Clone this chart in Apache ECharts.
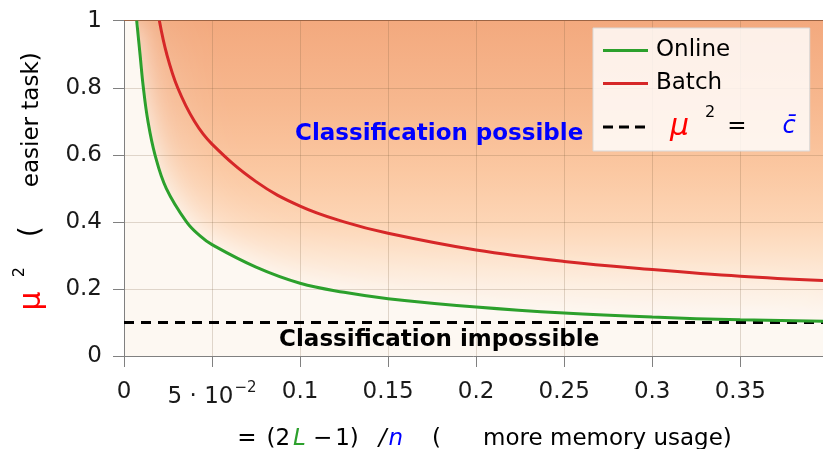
<!DOCTYPE html>
<html>
<head>
<meta charset="utf-8">
<script src="https://cdn.jsdelivr.net/npm/echarts@6/dist/echarts.min.js"></script>
<style>
  html, body { margin: 0; padding: 0; background: #fff; }
  #chart { width: 823px; height: 449px; }
</style>
</head>
<body>
<div id="chart"></div>
<script>
// values
const xMax = 0.397;
const cBar = 0.1;

const onlineX = [0.0072, 0.0091, 0.011, 0.0136, 0.0176, 0.024, 0.0355, 0.0432, 0.05, 0.075, 0.1, 0.125, 0.15, 0.2, 0.25, 0.3, 0.35, 0.397];
const onlineY = [1.0, 0.9, 0.8, 0.7, 0.6, 0.5, 0.4, 0.358, 0.332, 0.265, 0.217, 0.19, 0.171, 0.146, 0.128, 0.116, 0.108, 0.104];

const batchX = [0.0201, 0.0243, 0.0305, 0.04, 0.05, 0.075, 0.1, 0.125, 0.15, 0.2, 0.25, 0.3, 0.35, 0.397];
const batchY = [1.0, 0.9, 0.8, 0.70, 0.632, 0.52, 0.447, 0.40, 0.366, 0.316, 0.282, 0.258, 0.238, 0.225];

const thresholdX = [0, xMax];

const xTickLabels = ['0', '5 · 10', '0.1', '0.15', '0.2', '0.25', '0.3', '0.35'];
const yTickLabels = ['0', '0.2', '0.4', '0.6', '0.8', '1'];

const FONT = 'DejaVu Sans';
const pairs = (xs, ys) => xs.map((x, i) => [x, ys[i]]);
const fillData = [[0, 1]].concat(pairs(onlineX, onlineY));

const chart = echarts.init(document.getElementById('chart'));

const gridLine = { show: true, lineStyle: { color: 'rgba(120,90,60,0.22)', width: 1 } };

const option = {
  animation: false,
  textStyle: { fontFamily: FONT },
  grid: {
    left: 124, right: 0, top: 20.7, bottom: 93,
    show: true, borderWidth: 0,
    outerBoundsMode: 'none',
    backgroundColor: new echarts.graphic.LinearGradient(0, 0, 0, 1, [
      { offset: 0, color: '#f3a97e' },
      { offset: 0.25, color: '#f7b88f' },
      { offset: 0.45, color: '#fbc8a2' },
      { offset: 0.6, color: '#fdd5b5' },
      { offset: 0.7, color: '#fde2ca' },
      { offset: 0.8, color: '#fdeee0' },
      { offset: 0.88, color: '#fdf6ee' },
      { offset: 1, color: '#fdf8f2' }
    ])
  },
  legend: {
    data: [
      { name: 'Online', icon: 'rect' },
      { name: 'Batch', icon: 'rect' },
      { name: 'threshold', icon: 'path://M0,0h10v3h-10z M16,0h10v3h-10z M32,0h10v3h-10z M45,0h0v3h0z' }
    ],
    orient: 'vertical',
    left: 593, top: 28,
    itemWidth: 45, itemHeight: 3, itemGap: 10,
    padding: [11, 14, 9, 10],
    backgroundColor: 'rgba(255,255,255,0.82)',
    borderColor: '#d9d9d9', borderWidth: 1,
    z: 10,
    textStyle: {
      fontFamily: FONT, fontSize: 23, color: '#000', padding: [0, 0, 0, 3],
      rich: {
        mu: { fontFamily: FONT, fontSize: 30, fontStyle: 'italic', color: '#ff0000', lineHeight: 44, padding: [0, 0, 0, 14] },
        sup: { fontFamily: FONT, fontSize: 16, color: '#000', verticalAlign: 'top', lineHeight: 20, padding: [0, 0, 0, 16] },
        eq: { fontFamily: FONT, fontSize: 23, color: '#000', padding: [0, 0, 0, 12] },
        c: { fontFamily: FONT, fontSize: 24, fontStyle: 'italic', color: '#0000ff', padding: [0, 0, 0, 36] }
      }
    },
    formatter: function (name) {
      if (name === 'threshold') return '{mu|μ}{sup|2}{eq|=}{c|c\u0304}';
      return name;
    }
  },
  xAxis: [{
    type: 'value', min: 0, max: xMax, interval: 0.05, z: 3,
    axisLine: { show: true, onZero: false, lineStyle: { color: '#808080', width: 1 } },
    axisTick: { show: true, length: 11, lineStyle: { color: '#808080' } },
    axisLabel: {
      fontFamily: FONT, fontSize: 23, color: '#1a1a1a', margin: 25, showMaxLabel: false,
      formatter: function (v) {
        const i = Math.round(v / 0.05);
        if (Math.abs(v - i * 0.05) > 1e-6 || i >= xTickLabels.length) return '';
        if (i === 1) return '{a|' + xTickLabels[1] + '}{s|−2}';
        return xTickLabels[i];
      },
      rich: {
        a: { fontFamily: FONT, fontSize: 23, color: '#1a1a1a', padding: [5, 0, 0, 0] },
        s: { fontFamily: FONT, fontSize: 15, color: '#1a1a1a', verticalAlign: 'top', padding: [0, 0, 0, 1] }
      }
    },
    splitLine: gridLine,
    name: '{eq|=}{a|(2}{L|L}{m|−}{b|1)}{sl|/}{n|n}{lp|(}{t|more memory usage)}',
    nameLocation: 'middle', nameGap: 72,
    nameTextStyle: {
      rich: {
        eq: { fontFamily: FONT, fontSize: 23, color: '#000', padding: [0, 0, 0, 22] },
        a: { fontFamily: FONT, fontSize: 23, color: '#000', padding: [0, 0, 0, 10] },
        L: { fontFamily: FONT, fontSize: 23, color: '#2ca02c', fontStyle: 'italic', padding: [0, 0, 0, 3] },
        m: { fontFamily: FONT, fontSize: 23, color: '#000', padding: [0, 0, 0, 7] },
        b: { fontFamily: FONT, fontSize: 23, color: '#000', padding: [0, 0, 0, 3] },
        sl: { fontFamily: FONT, fontSize: 23, color: '#000', fontStyle: 'italic', padding: [0, 0, 0, 20] },
        n: { fontFamily: FONT, fontSize: 23, color: '#0000ff', fontStyle: 'italic', padding: [0, 0, 0, 2] },
        lp: { fontFamily: FONT, fontSize: 23, color: '#000', padding: [0, 0, 0, 29] },
        t: { fontFamily: FONT, fontSize: 23, color: '#000', padding: [0, 0, 0, 42] }
      }
    }
  }, {
    type: 'value', position: 'top', min: 0, max: xMax, z: 3,
    axisLine: { show: true, onZero: false, lineStyle: { color: '#9c6444', width: 1 } },
    axisTick: { show: false }, axisLabel: { show: false }, splitLine: { show: false }
  }],
  yAxis: {
    type: 'value', min: 0, max: 1, interval: 0.2, z: 3,
    axisLine: { show: true, onZero: false, lineStyle: { color: '#808080', width: 1 } },
    axisTick: { show: true, length: 11, lineStyle: { color: '#808080' } },
    axisLabel: {
      fontFamily: FONT, fontSize: 23, color: '#1a1a1a', margin: 22,
      formatter: function (v) { return yTickLabels[Math.round(v / 0.2)]; }
    },
    splitLine: gridLine,
    name: '{mu|μ}{sup|2}{lp|(}{t|easier task)}',
    nameLocation: 'middle', nameRotate: 90, nameGap: 72,
    nameTextStyle: {
      rich: {
        mu: { fontFamily: FONT, fontSize: 30, color: '#ff0000', lineHeight: 40, padding: [0, 0, 0, 14] },
        sup: { fontFamily: FONT, fontSize: 16, color: '#000', verticalAlign: 'top', lineHeight: 12, padding: [0, 0, 0, 14] },
        lp: { fontFamily: FONT, fontSize: 28, color: '#000', padding: [0, 0, 0, 30] },
        t: { fontFamily: FONT, fontSize: 23, color: '#000', padding: [0, 0, 0, 39] }
      }
    }
  },
  series: [
    {
      type: 'line', data: fillData, smooth: 0.4, symbol: 'none', silent: true, z: 2,
      lineStyle: { width: 0 },
      areaStyle: { color: '#fdf8f2', opacity: 1, shadowBlur: 70, shadowColor: '#fdf8f2' }
    },
    {
      type: 'line', data: fillData, smooth: 0.4, symbol: 'none', silent: true, z: 2,
      lineStyle: { width: 0 },
      areaStyle: { color: '#fdf8f2', opacity: 1, shadowBlur: 26, shadowColor: '#fdf8f2' }
    },
    {
      name: 'threshold', type: 'line', data: thresholdX.map(x => [x, cBar]), symbol: 'none', z: 4,
      lineStyle: { color: '#000', width: 3, type: [10, 7] }, itemStyle: { color: '#000' }
    },
    {
      name: 'Online', type: 'line', data: pairs(onlineX, onlineY), smooth: 0.4, symbol: 'none', z: 4,
      lineStyle: { color: '#2ca02c', width: 3 }, itemStyle: { color: '#2ca02c' }
    },
    {
      name: 'Batch', type: 'line', data: pairs(batchX, batchY), smooth: 0.4, symbol: 'none', z: 4,
      lineStyle: { color: '#d62728', width: 3 }, itemStyle: { color: '#d62728' }
    },
    {
      type: 'scatter', symbolSize: 1, itemStyle: { color: 'rgba(0,0,0,0)', opacity: 1 }, silent: true, z: 5,
      data: [
        { value: [0.179, 0.662], label: { formatter: 'Classification possible', color: '#0000ff' } },
        { value: [0.179, 0.048], label: { formatter: 'Classification impossible', color: '#000' } }
      ],
      label: { show: true, position: 'inside', opacity: 1, fontFamily: FONT, fontSize: 23, fontWeight: 'bold' }
    }
  ]
};

chart.setOption(option);
</script>
</body>
</html>
